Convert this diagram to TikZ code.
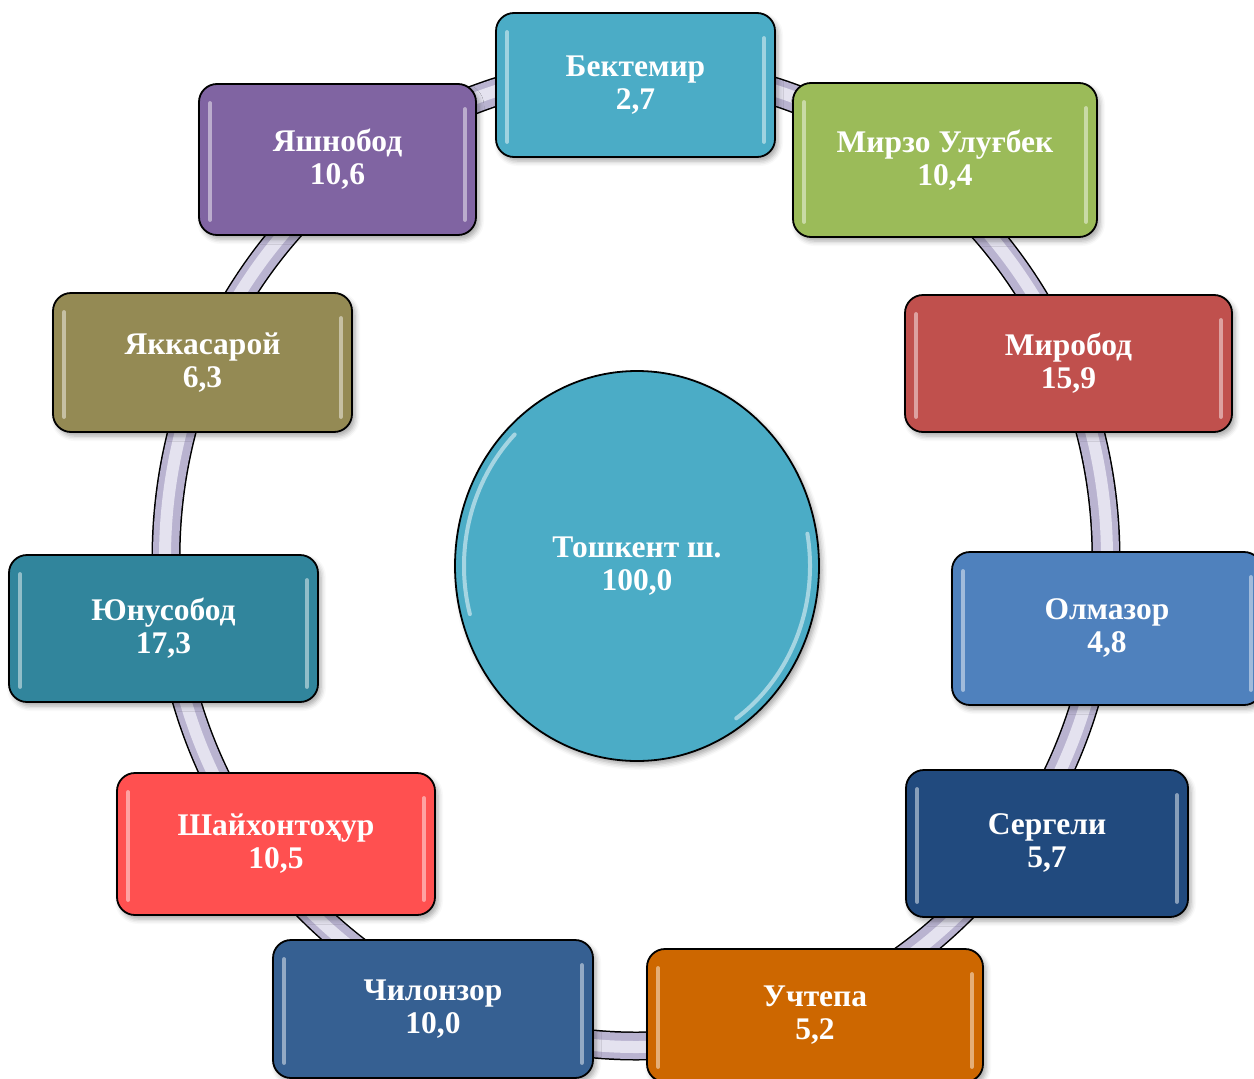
\documentclass[tikz,border=0pt]{standalone}
\usepackage{fontspec}
\setmainfont{Liberation Serif}
\usetikzlibrary{shapes.geometric,shadows.blur}
\definecolor{cBek}{HTML}{4BACC6}
\definecolor{cMir}{HTML}{9BBB59}
\definecolor{cMirob}{HTML}{C0504D}
\definecolor{cOlm}{HTML}{4F81BD}
\definecolor{cSer}{HTML}{214A7E}
\definecolor{cUch}{HTML}{CD6700}
\definecolor{cChil}{HTML}{366092}
\definecolor{cShay}{HTML}{FF5050}
\definecolor{cYun}{HTML}{31859C}
\definecolor{cYak}{HTML}{948A54}
\definecolor{cYash}{HTML}{8064A2}
\definecolor{ringdark}{HTML}{B9B3D0}
\definecolor{ringlight}{HTML}{E4E2EF}
\newcommand{\glossy}[2]{%
  \draw[line width=4, line cap=round, #2!45!white, opacity=0.85]
    ([xshift=12,yshift=-20]#1.north west) -- ([xshift=12,yshift=16]#1.south west);
  \draw[line width=4, line cap=round, #2!45!white, opacity=0.85]
    ([xshift=-12,yshift=-26]#1.north east) -- ([xshift=-12,yshift=16]#1.south east);
}
\begin{document}
\begin{tikzpicture}[x=1pt,y=-1pt,
  dbox/.style={draw=black, line width=1.8, rounded corners=18, inner sep=0pt,
    text=white, align=center, font=\bfseries\fontsize{31.5}{33}\selectfont,
    blur shadow={shadow xshift=3pt, shadow yshift=-4pt, shadow blur radius=5pt, shadow opacity=35}},
  ringout/.style={line width=29, draw=black},
  ringmid/.style={line width=26, draw=ringdark},
  ringin/.style={line width=12, draw=ringlight}]
\useasboundingbox (0,0) rectangle (1254,1079);
\clip (0,0) rectangle (1254,1079);
% ring
\coordinate (ringc) at (636,558);
\path[ringout] (ringc) ellipse [x radius=470, y radius=488];
\path[ringmid] (ringc) ellipse [x radius=470, y radius=488];
\path[ringin] (ringc) ellipse [x radius=471, y radius=489];
% boxes
\node[dbox, fill=cBek, minimum width=279, minimum height=144] (bek) at (635.5,85) {Бектемир\\2,7};
\node[dbox, fill=cMir, minimum width=304, minimum height=154] (mir) at (945,160) {Мирзо Улуғбек\\10,4};
\node[dbox, fill=cMirob, minimum width=327, minimum height=137] (mirob) at (1068.5,363.5) {Миробод\\15,9};
\node[dbox, fill=cOlm, minimum width=310, minimum height=153] (olm) at (1107,628.5) {Олмазор\\4,8};
\node[dbox, fill=cSer, minimum width=282, minimum height=147] (ser) at (1047,843.5) {Сергели\\5,7};
\node[dbox, fill=cUch, minimum width=336, minimum height=133] (uch) at (815,1015.5) {Учтепа\\5,2};
\node[dbox, fill=cChil, minimum width=320, minimum height=138] (chil) at (433,1009) {Чилонзор\\10,0};
\node[dbox, fill=cShay, minimum width=318, minimum height=142] (shay) at (276,844) {Шайхонтоҳур\\10,5};
\node[dbox, fill=cYun, minimum width=309, minimum height=147] (yun) at (163.5,628.5) {Юнусобод\\17,3};
\node[dbox, fill=cYak, minimum width=299, minimum height=139] (yak) at (202.5,362.5) {Яккасарой\\6,3};
\node[dbox, fill=cYash, minimum width=277, minimum height=151] (yash) at (337.5,159.5) {Яшнобод\\10,6};
\glossy{bek}{cBek}
\glossy{mir}{cMir}
\glossy{mirob}{cMirob}
\glossy{olm}{cOlm}
\glossy{ser}{cSer}
\glossy{uch}{cUch}
\glossy{chil}{cChil}
\glossy{shay}{cShay}
\glossy{yun}{cYun}
\glossy{yak}{cYak}
\glossy{yash}{cYash}
% centre
\node[dbox, ellipse, rounded corners=0, fill=cBek, minimum width=364, minimum height=390] (tash) at (637,566) {Тошкент ш.\\100,0};
\draw[line width=4, white, opacity=0.5, line cap=round]
  ([shift={(165:173 and 186)}]tash.center) arc [start angle=165, end angle=225, x radius=173, y radius=186];
\draw[line width=4, white, opacity=0.5, line cap=round]
  ([shift={(55:173 and 186)}]tash.center) arc [start angle=55, end angle=-10, x radius=173, y radius=186];
\end{tikzpicture}
\end{document}
